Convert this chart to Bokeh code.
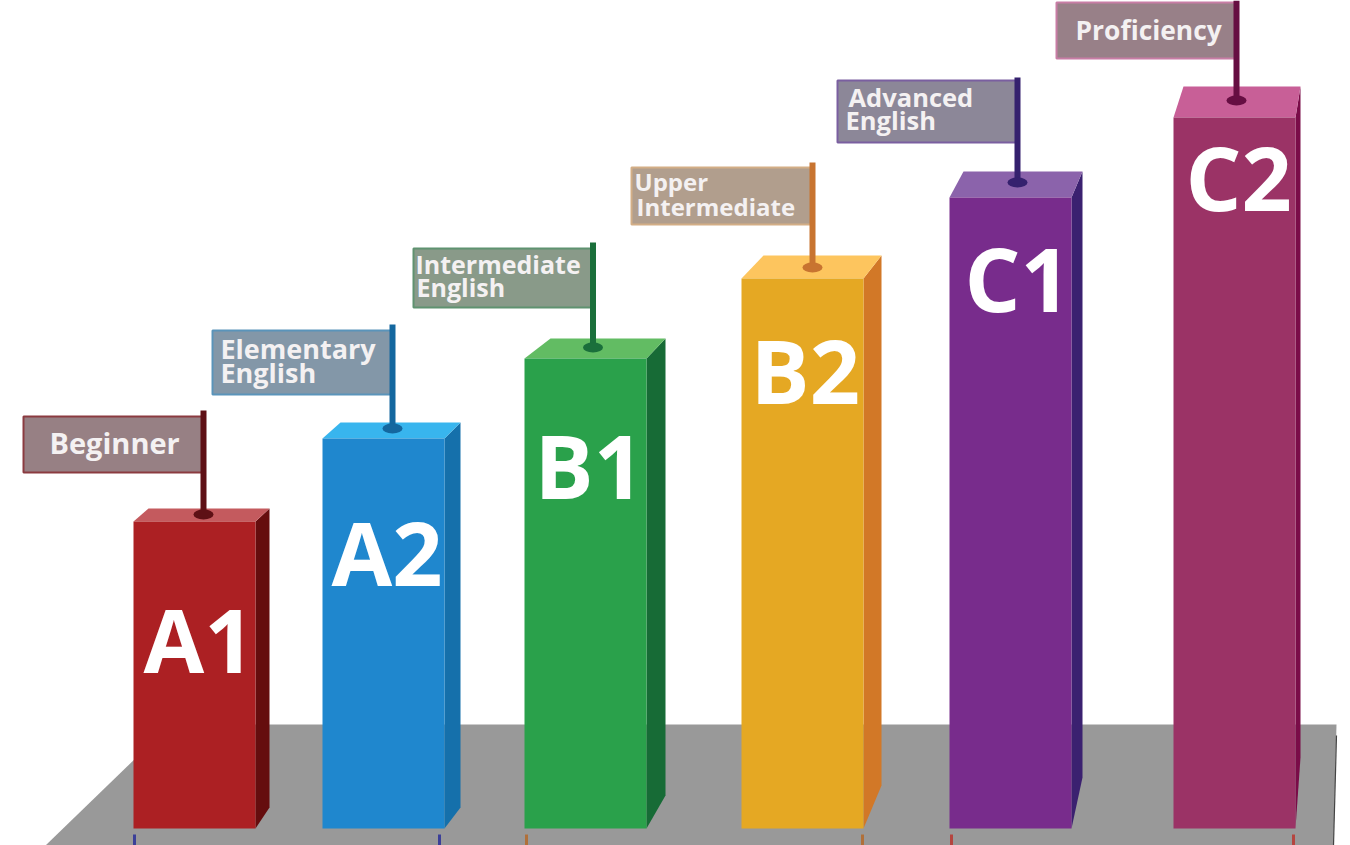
from bokeh.plotting import figure
from bokeh.models import Range1d
from bokeh.core.properties import value
from bokeh.embed import file_html
from bokeh.resources import INLINE

# ---- chart data ----
levels = ["A1", "A2", "B1", "B2", "C1", "C2"]
bar_heights = [307, 390, 470, 550, 631, 711]
flag_lines = [["Beginner"], ["Elementary", "English"], ["Intermediate", "English"],
              ["Upper", "Intermediate"], ["Advanced", "English"], ["Proficiency"]]

# ---- layout (image pixels) ----
BASE = 828
left = [133, 322, 524, 741, 949, 1173]
bar_w = 122
side_dx = [14, 16, 19, 18, 11, 5]
top_dy = [13, 16, 20, 23, 26, 31]
back_dx = [15, 18, 26, 22, 14, 10]
side_low = [807, 807, 795, 785, 777, 757]
pole_x = [203, 392, 592.5, 812, 1017, 1236]
pole_top = [410, 324, 242, 162, 77, 0]
pole_base = [514, 428, 347, 267, 182, 100]
flag_l = [23, 212, 413, 631, 837, 1056]
flag_t = [416, 330, 248, 167, 80, 2]
flag_b = [472, 394, 307, 224, 142, 58]
big_x = [143, 331, 534, 750, 964, 1185]
big_base = [675, 588, 501, 406, 314, 213]
text_x = [[49], [220, 220], [415, 416], [634, 636], [848, 845], [1075]]
text_base = [[454], [359, 383], [274, 297], [191, 216], [107, 130], [41]]
label_size = [29, 27, 25, 24, 25.5, 26.4]
big_size = 88

front_c = ["#AC2023", "#1F87CE", "#2AA14B", "#E5A823", "#782C8C", "#9B3366"]
side_c = ["#650D0E", "#1570AB", "#176B36", "#D27827", "#3B2170", "#7A0C48"]
top_c = ["#C45A5E", "#38B5EE", "#62BC63", "#FDC55E", "#8B63AB", "#C85F97"]
pole_c = ["#5E1015", "#14679F", "#1A6F3B", "#C87430", "#35216E", "#660E42"]
flag_c = ["#978084", "#8397A8", "#899A89", "#B19E8D", "#8C8798", "#988088"]
edge_c = ["#8B3B40", "#5A94BA", "#5F9270", "#D3AE86", "#7A5FA0", "#C87DA5"]

def py(pix):
    return BASE - pix

p = figure(width=1350, height=845, output_backend="svg", toolbar_location=None,
           x_range=Range1d(0, 1350), y_range=Range1d(py(845), py(0)),
           min_border=0, background_fill_color="white", border_fill_color="white")
p.axis.visible = False
p.grid.visible = False
p.outline_line_color = None

# floor
p.patch([170, 1336, 1333, 45], [py(724), py(724), py(845), py(845)],
        fill_color="#999999", line_color=None)
p.line([1336, 1333], [py(735), py(845)], line_color="#444444", line_width=1.2)
for xs, c in zip([134, 439, 526, 862, 951, 1293],
                 ["#3B3F98", "#3B3F98", "#B0703A", "#B0703A", "#B5453F", "#B5453F"]):
    p.segment([xs], [py(834)], [xs], [py(845)], line_color=c, line_width=3)

for i, lv in enumerate(levels):
    h = bar_heights[i]
    l, r = left[i], left[i] + bar_w
    # side face
    p.patch([r, r + side_dx[i], r + side_dx[i], r],
            [h, h + top_dy[i], py(side_low[i]), 0],
            fill_color=side_c[i], line_color=None)
    # top face
    p.patch([l, l + back_dx[i], r + side_dx[i], r],
            [h, h + top_dy[i], h + top_dy[i], h],
            fill_color=top_c[i], line_color=None)
    # front face
    p.quad(left=[l], right=[r], bottom=[0], top=[h], fill_color=front_c[i], line_color=None)
    # flag
    p.quad(left=[flag_l[i]], right=[pole_x[i]], top=[py(flag_t[i])], bottom=[py(flag_b[i])],
           fill_color=flag_c[i], line_color=edge_c[i], line_width=2)
    # pole
    p.quad(left=[pole_x[i] - 3], right=[pole_x[i] + 3], top=[py(pole_top[i])],
           bottom=[py(pole_base[i])], fill_color=pole_c[i], line_color=None)
    p.ellipse(x=[pole_x[i]], y=[py(pole_base[i])], width=20, height=10,
              fill_color=pole_c[i], line_color=None)
    # flag texts
    for t, tx, tb in zip(flag_lines[i], text_x[i], text_base[i]):
        p.text(x=[tx], y=[py(tb)], text=[t], text_color="#F4F1F2",
               y_offset=-0.42 * label_size[i],
               text_font=value("Open Sans"), text_font_style="bold",
               text_font_size=f"{label_size[i]}px", text_baseline="alphabetic", text_align="left")
    # big level text
    p.text(x=[big_x[i]], y=[py(big_base[i])], text=[lv], text_color="white",
           y_offset=-0.42 * big_size,
           text_font=value("Open Sans"), text_font_style="bold",
           text_font_size=f"{big_size}px", text_baseline="alphabetic", text_align="left")

open("out.html", "w").write(file_html(p, INLINE))
